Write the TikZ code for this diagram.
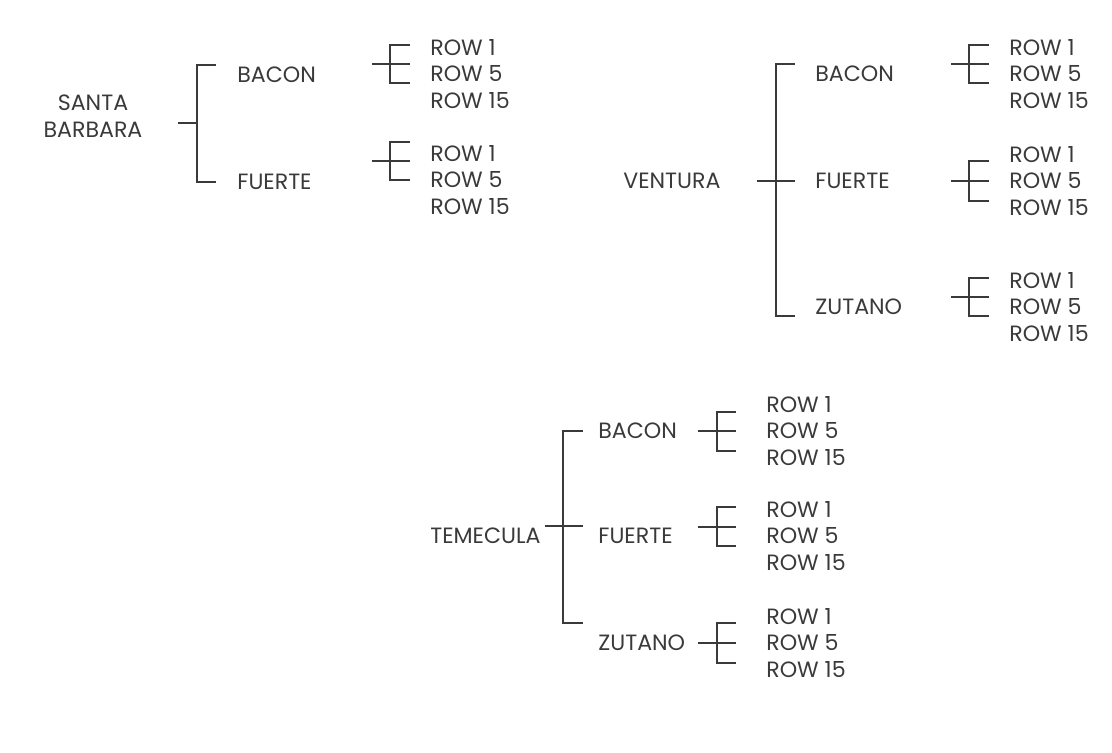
\documentclass[tikz,border=0pt]{standalone}
\usepackage{fontspec}
\setmainfont{Poppins}
\usepackage{xcolor}
\definecolor{ink}{HTML}{3A3A3A}
\usepackage{tikz}

\begin{document}
\begin{tikzpicture}[
  x=0.02cm, y=-0.02cm,
  lbl/.style={font=\fontsize{12.6}{15}\selectfont, text=ink, inner sep=0pt, anchor=west},
  rows/.style={lbl, align=left},
  brk/.style={draw=ink, line width=0.9pt}
]
  \useasboundingbox (0,0) rectangle (1112,752);

  % Santa Barbara
  \node[lbl, anchor=center, align=center] (sb) at (93,116) {SANTA\\BARBARA};
  \node[lbl] (sbb) at (237,75) {BACON};
  \node[lbl] (sbf) at (237,182) {FUERTE};
  \node[rows] (sbbr) at (430,74) {ROW 1\\ROW 5\\ROW 15};
  \node[rows] (sbfr) at (430,180) {ROW 1\\ROW 5\\ROW 15};

  \coordinate (sbk) at (197,123);
  \draw[brk] (sbk) ++(-19,0) -- (sbk);
  \draw[brk] (216,65) -| (sbk) |- (216,182);

  \coordinate (sbbk) at (390,64);
  \draw[brk] (sbbk) ++(-18,0) -- ++(38,0);
  \draw[brk] (410,45) -| (sbbk) |- (410,83);
  \coordinate (sbfk) at (390,161);
  \draw[brk] (sbfk) ++(-18,0) -- ++(38,0);
  \draw[brk] (410,142) -| (sbfk) |- (410,180);

  % Ventura
  \node[lbl] (ve) at (623,181) {VENTURA};
  \node[lbl] (veb) at (815,74) {BACON};
  \node[lbl] (vef) at (815,181) {FUERTE};
  \node[lbl] (vez) at (815,307) {ZUTANO};
  \node[rows] (vebr) at (1009,74) {ROW 1\\ROW 5\\ROW 15};
  \node[rows] (vefr) at (1009,181) {ROW 1\\ROW 5\\ROW 15};
  \node[rows] (vezr) at (1009,307) {ROW 1\\ROW 5\\ROW 15};

  \coordinate (vek) at (776,181);
  \draw[brk] (vek) ++(-19,0) -- ++(38,0);
  \draw[brk] (795,64) -| (vek) |- (795,316);

  \coordinate (vebk) at (969,64);
  \draw[brk] (vebk) ++(-18,0) -- ++(38,0);
  \draw[brk] (989,45) -| (vebk) |- (989,83);
  \coordinate (vefk) at (969,181);
  \draw[brk] (vefk) ++(-18,0) -- ++(38,0);
  \draw[brk] (989,161) -| (vefk) |- (989,201);
  \coordinate (vezk) at (969,297);
  \draw[brk] (vezk) ++(-18,0) -- ++(38,0);
  \draw[brk] (989,278) -| (vezk) |- (989,316);

  % Temecula
  \node[lbl] (te) at (430,536) {TEMECULA};
  \node[lbl] (teb) at (598,431) {BACON};
  \node[lbl] (tef) at (598,536) {FUERTE};
  \node[lbl] (tez) at (598,643) {ZUTANO};
  \node[rows] (tebr) at (766,431) {ROW 1\\ROW 5\\ROW 15};
  \node[rows] (tefr) at (766,536) {ROW 1\\ROW 5\\ROW 15};
  \node[rows] (tezr) at (766,643) {ROW 1\\ROW 5\\ROW 15};

  \coordinate (tek) at (563,526);
  \draw[brk] (tek) ++(-18,0) -- ++(38,0);
  \draw[brk] (583,431) -| (tek) |- (583,623);

  \coordinate (tebk) at (717,431);
  \draw[brk] (tebk) ++(-19,0) -- ++(38,0);
  \draw[brk] (736,412) -| (tebk) |- (736,451);
  \coordinate (tefk) at (717,527);
  \draw[brk] (tefk) ++(-19,0) -- ++(38,0);
  \draw[brk] (736,507) -| (tefk) |- (736,546);
  \coordinate (tezk) at (717,643);
  \draw[brk] (tezk) ++(-19,0) -- ++(38,0);
  \draw[brk] (736,623) -| (tezk) |- (736,663);
\end{tikzpicture}
\end{document}
